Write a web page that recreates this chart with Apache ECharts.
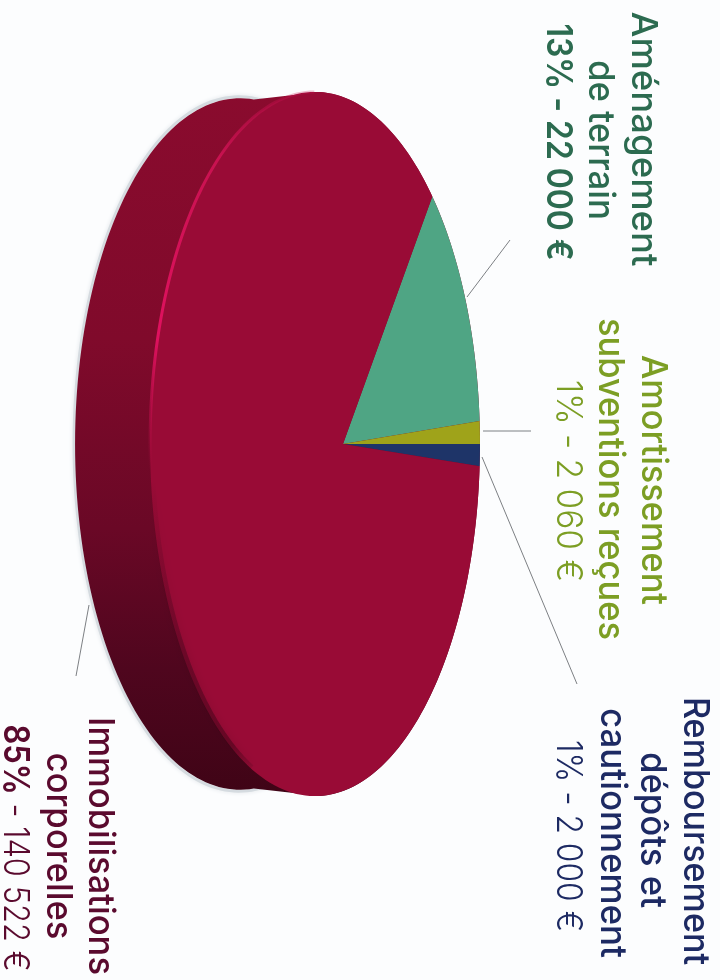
<!DOCTYPE html>
<html><head><meta charset="utf-8">
<style>html,body{margin:0;padding:0;background:#fcfdfe}#c{width:720px;height:980px}</style>
<script src="https://cdn.jsdelivr.net/npm/echarts@6/dist/echarts.min.js"></script>
</head><body><div id="c"></div>
<script>
const categories = ['Aménagement de terrain','Amortissement subventions reçues','Remboursement dépôts et cautionnement','Immobilisations corporelles'];
const amounts = [22000, 2060, 2000, 140522];
const sliceColors = ['#4fa584','#9fa31a','#1e3468','#990b36'];
const labelLines = [
  ['Aménagement','de terrain','13% - 22 000 €'],
  ['Amortissement','subventions reçues','1% - 2 060 €'],
  ['Remboursement','dépôts et','cautionnement','1% - 2 000 €'],
  ['Immobilisations','corporelles','85% - 140 522 €']
];
const textColors = ['#2c6b50','#7c9e24','#1d2a63','#5a0a2e'];

// view geometry: the disc seen in perspective from its side
const APEX = {x:343, y:444}, A = 160.2, C = 0.1697, D = 347, DEPTH = 75, BACK = 0.982;
const total = amounts.reduce((a,b)=>a+b,0);
const startDeg = -(amounts[0]+amounts[1])/total*360;
function rim(deg, dx, sy){
  const t = deg*Math.PI/180, u = Math.cos(t), v = Math.sin(t), w = 1+C*u;
  return [APEX.x + A*u/w + (dx||0), APEX.y + (sy||1)*D*v/w];
}
function arc(a, b, dx, sy){
  const n = Math.max(2, Math.ceil(Math.abs(b-a)/1.5)), out = [];
  for (let i=0;i<=n;i++) out.push(rim(a+(b-a)*i/n, dx, sy));
  return out;
}
const vg = (stops)=>new echarts.graphic.LinearGradient(0,0,0,1,stops.map(s=>({offset:s[0],color:s[1]})));

const sideSeries = {
  type:'custom', coordinateSystem:'none', silent:true, z:1, data:[0], clip:false,
  renderItem(){
    const outer = arc(-95,-265,-DEPTH,BACK);
    const front = arc(98,-98,0);
    const side = outer.concat(front);
    const halo = arc(-85,-275,-DEPTH-1,BACK*1.004);
    return {type:'group',children:[
      {type:'polyline',shape:{points:halo},style:{fill:'none',stroke:'#d5dbe0',lineWidth:3,shadowBlur:4,shadowColor:'#dfe4e8'}},
      {type:'polygon',shape:{points:side},style:{fill:vg([[0,'#8a0b2e'],[0.35,'#800a2b'],[0.62,'#6a0826'],[0.82,'#4f061e'],[1,'#3f0416']])}}
    ]};
  }
};
const sliceSeries = {
  type:'custom', coordinateSystem:'none', z:2, clip:false,
  data: amounts.map((v,i)=>({name:categories[i],value:v,itemStyle:{color:sliceColors[i]}})),
  renderItem(params, api){
    const i = params.dataIndex;
    const before = amounts.slice(0,i).reduce((a,b)=>a+b,0);
    const a = startDeg + before/total*360, b = a + api.value(0)/total*360;
    const pts = [[APEX.x,APEX.y]].concat(arc(a,b,0));
    return {type:'polygon',shape:{points:pts},style:{fill:api.visual('color')}};
  }
};
const highlightSeries = {
  type:'custom', coordinateSystem:'none', silent:true, z:3, data:[0], clip:false,
  renderItem(){
    return {type:'group',children:[
      {type:'polyline',shape:{points:arc(-100,-186,0)},style:{fill:'none',lineWidth:3,
        stroke:new echarts.graphic.LinearGradient(0,90,0,470,[
          {offset:0,color:'rgba(200,16,80,0.25)'},{offset:0.18,color:'#c81250'},{offset:0.65,color:'#e0115f'},{offset:1,color:'rgba(200,16,80,0)'}
        ],true)}},
      {type:'polyline',shape:{points:arc(122,178,2)},style:{fill:'none',lineWidth:5,shadowBlur:8,shadowColor:'rgba(50,2,18,0.35)',
        stroke:new echarts.graphic.LinearGradient(0,480,0,775,[
          {offset:0,color:'rgba(70,6,28,0)'},{offset:0.6,color:'rgba(70,6,28,0.5)'},{offset:0.9,color:'rgba(60,4,22,0.5)'},{offset:1,color:'rgba(60,4,22,0)'}
        ],true)}}
    ]};
  }
};

const LEADERS = [[[467,297],[510,240]],[[483,431],[531,431]],[[482,457],[577,684]],[[89,605],[76,676]]];
const LABEL_POS = [
  [[643,139],[600,140],[558,142]],
  [[653,480],[610,479],[568,481]],
  [[695,831],[652,830],[612,833],[568,836]],
  [[100,846],[58,846],[15,848]]
];
const LABEL_LEN = [[255,160,237],[250,322,202],[268,156,250,192],[258,187,247]];
const FW = [[500,500,600],[500,500,300],[500,500,500,300],[500,500,300]];
const FS = 36, FF = 'Inter';

const measure = document.createElement('canvas').getContext('2d');
function widthOf(txt, weight){ measure.font = `${weight} ${FS}px ${FF}`; return measure.measureText(txt).width; }

const graphics = [];
LEADERS.forEach(l=>graphics.push({type:'line',shape:{x1:l[0][0],y1:l[0][1],x2:l[1][0],y2:l[1][1]},style:{stroke:'#7d8084',lineWidth:1},z:4}));
labelLines.forEach((lines,i)=>lines.forEach((t,j)=>{
  const m = t.match(/^(\d+%)( - .*)$/);
  const style = {x:0,y:0,text:t,fill:textColors[i],font:`${FW[i][j]} ${FS}px ${FF}`,align:'center',verticalAlign:'middle'};
  let w = widthOf(t, FW[i][j]);
  if (m && i===3){ style.text = `{a|${m[1]}}{b|${m[2]}}`;
    style.rich = {a:{font:`600 ${FS}px ${FF}`,fill:textColors[i]},b:{font:`300 ${FS}px ${FF}`,fill:textColors[i]}};
    w = widthOf(m[1],600)+widthOf(m[2],300); }
  graphics.push({type:'text',x:LABEL_POS[i][j][0],y:LABEL_POS[i][j][1],rotation:-Math.PI/2,scaleX:LABEL_LEN[i][j]/w,style,z:5});
}));

const chart = echarts.init(document.getElementById('c'),null,{renderer:'canvas'});
chart.setOption({backgroundColor:'#fcfdfe',animation:false,series:[sideSeries,sliceSeries,highlightSeries],graphic:graphics});
</script></body></html>
